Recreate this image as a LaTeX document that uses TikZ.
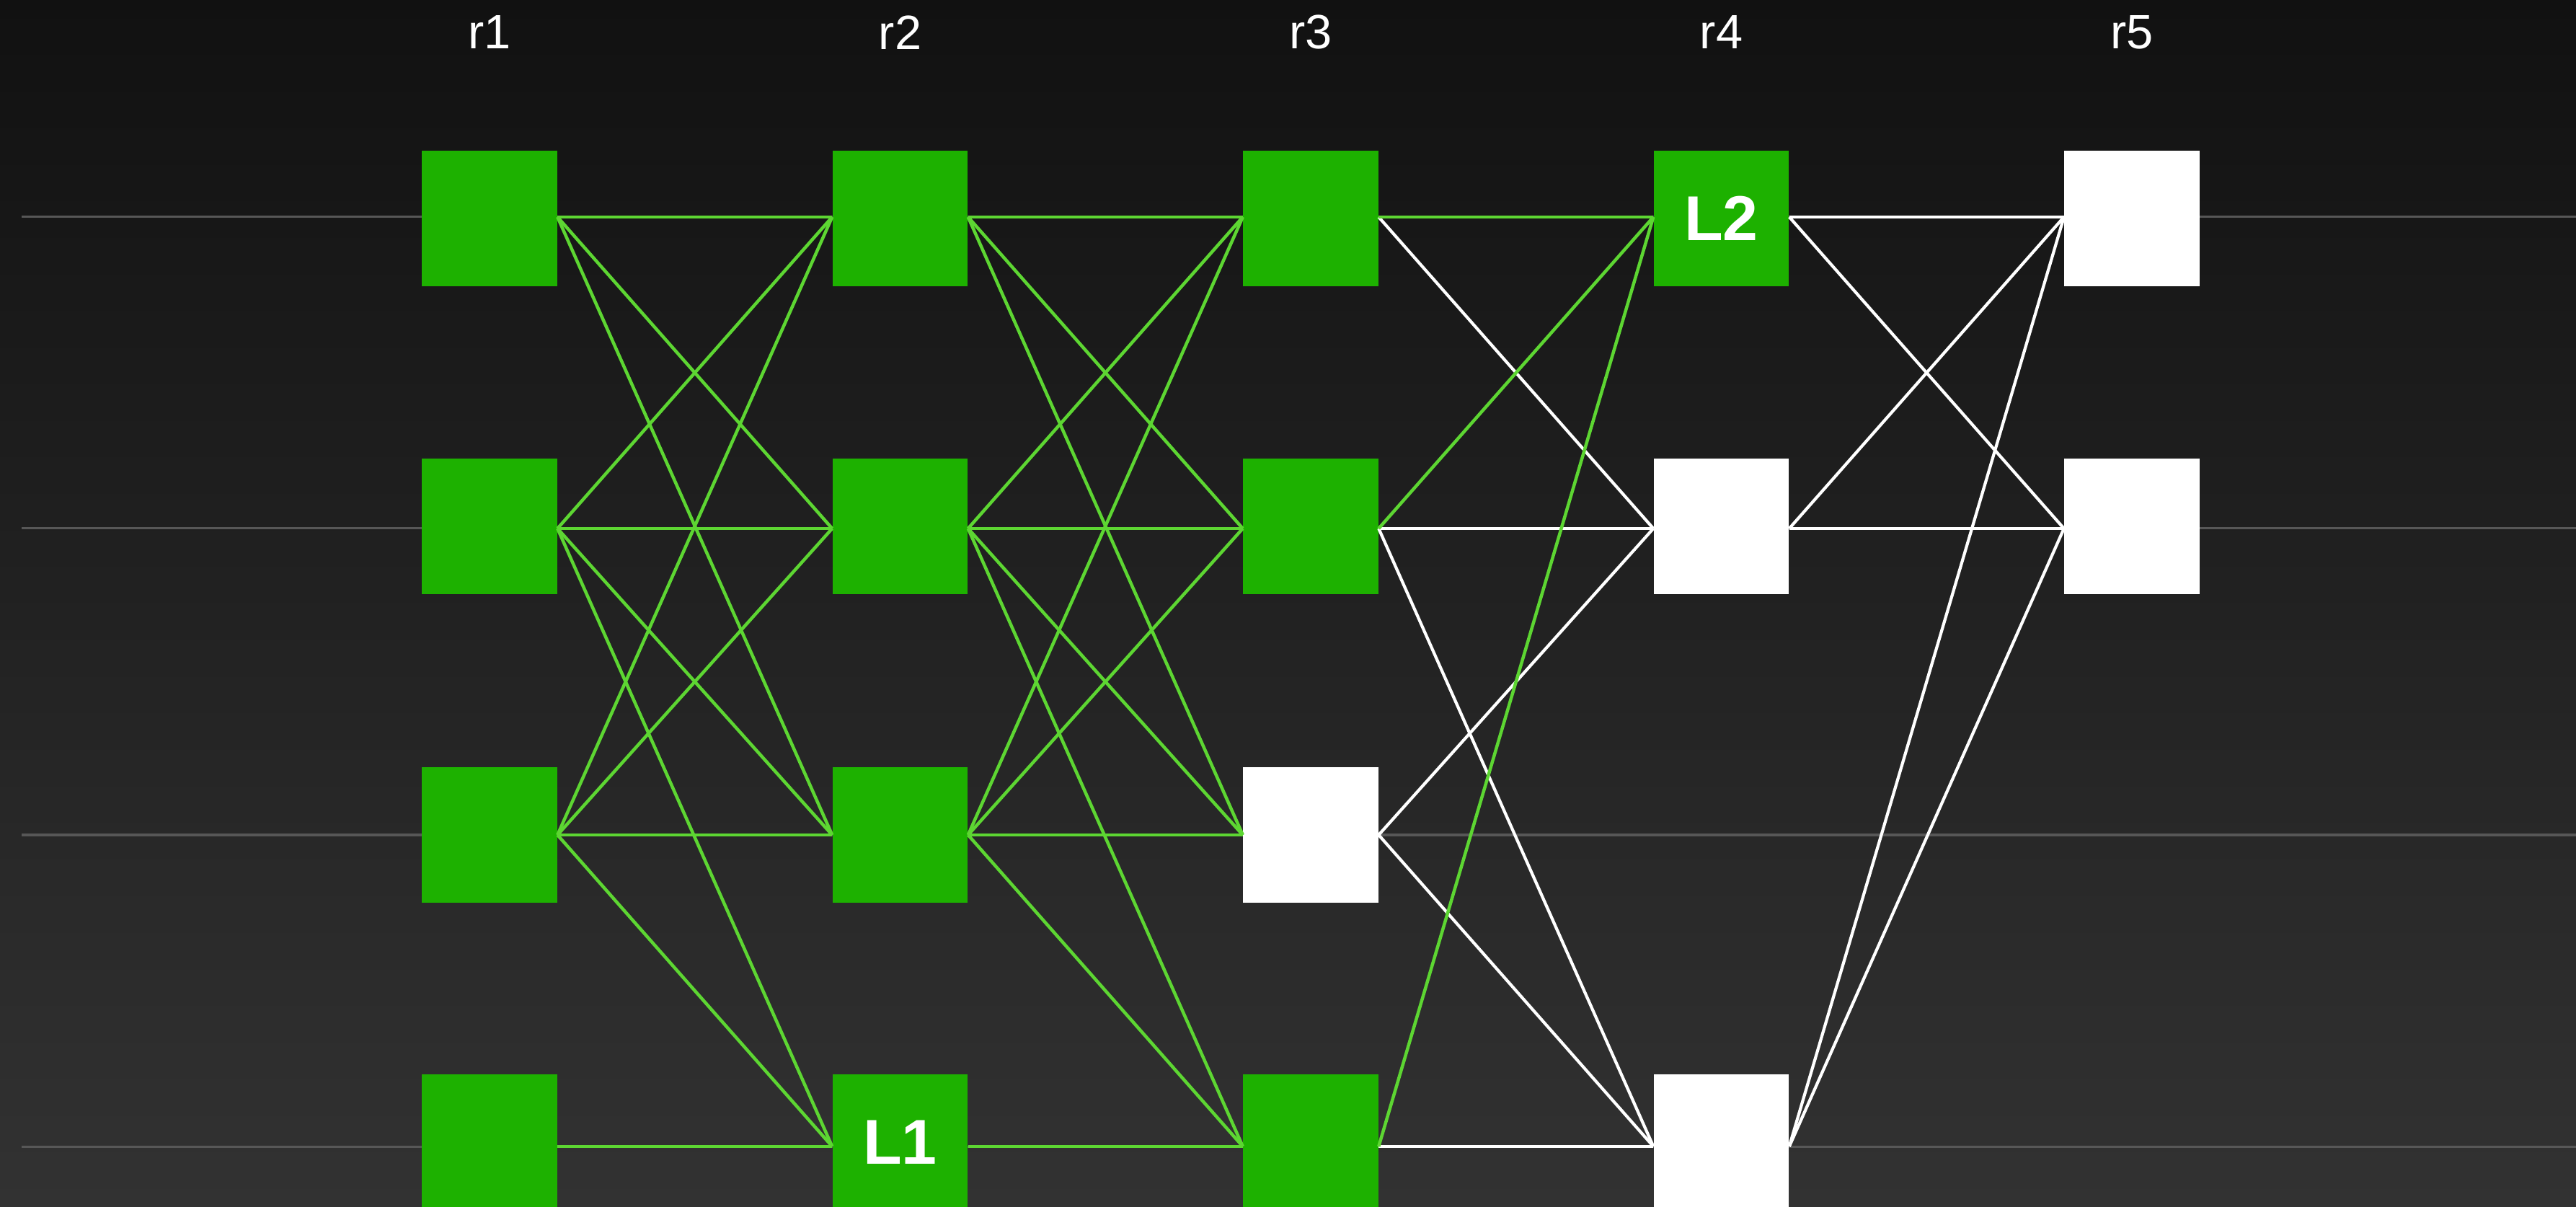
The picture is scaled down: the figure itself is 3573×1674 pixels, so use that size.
\documentclass[tikz,border=0pt]{standalone}
\usepackage{fontspec}
\setmainfont{Liberation Sans}
\definecolor{bgtop}{HTML}{111111}
\definecolor{bgbot}{HTML}{323232}
\definecolor{gfill}{HTML}{1DB100}
\definecolor{gedge}{HTML}{5DD632}
\definecolor{rulegray}{HTML}{575757}
\begin{document}
\begin{tikzpicture}[x=0.01cm,y=-0.01cm,
  box/.style={minimum width=1.87cm,minimum height=1.87cm,inner sep=0pt,draw=none},
  gbox/.style={box,fill=gfill},
  wbox/.style={box,fill=white},
  boxlabel/.style={text=white,font=\fontsize{25}{25}\selectfont\bfseries},
  collabel/.style={text=white,inner sep=0pt,font=\fontsize{19}{20}\selectfont},
  rowrule/.style={draw=rulegray,line width=0.03cm},
  gline/.style={draw=gedge,line width=0.045cm},
  wline/.style={draw=white,line width=0.042cm}]
\shade[top color=bgtop,bottom color=bgbot] (0,0) rectangle (3573,1674);
\useasboundingbox (0,0) rectangle (3573,1674);
% row port heights
\coordinate (y1) at (0,301);
\coordinate (y2) at (0,733);
\coordinate (y3) at (0,1158);
\coordinate (y4) at (0,1590);
% horizontal rules
\foreach \k in {1,2,3,4}{
  \coordinate (rs\k) at (30,0 |- y\k);
  \coordinate (re\k) at (3573,0 |- y\k);
  \draw[rowrule] (rs\k |- y\k) -- (re\k |- y\k);
}
% column labels
\node[collabel] (lab1) at (679,45) {r1};
\node[collabel] (lab2) at (1248.5,45) {r2};
\node[collabel] (lab3) at (1818,45) {r3};
\node[collabel] (lab4) at (2387.5,45) {r4};
\node[collabel] (lab5) at (2957,45) {r5};
% nodes
\node[gbox] (n11) at (679,303) {};
\node[gbox] (n12) at (679,730) {};
\node[gbox] (n13) at (679,1158) {};
\node[gbox] (n14) at (679,1584) {};
\node[gbox] (n21) at (1248.5,303) {};
\node[gbox] (n22) at (1248.5,730) {};
\node[gbox] (n23) at (1248.5,1158) {};
\node[gbox,boxlabel] (n24) at (1248.5,1584) {L1};
\node[gbox] (n31) at (1818,303) {};
\node[gbox] (n32) at (1818,730) {};
\node[wbox] (n33) at (1818,1158) {};
\node[gbox] (n34) at (1818,1584) {};
\node[gbox,boxlabel] (n41) at (2387.5,303) {L2};
\node[wbox] (n42) at (2387.5,730) {};
\node[wbox] (n44) at (2387.5,1584) {};
\node[wbox] (n51) at (2957,303) {};
\node[wbox] (n52) at (2957,730) {};
% edges r1 -> r2 and r2 -> r3
\foreach \a/\b in {1/1,1/2,1/3,2/1,2/2,2/3,2/4,3/1,3/2,3/3,3/4,4/4}{
  \draw[gline] (n1\a.east |- y\a) -- (n2\b.west |- y\b);
  \draw[gline] (n2\a.east |- y\a) -- (n3\b.west |- y\b);
}
% edges r3 -> r4
\foreach \a/\b in {1/2,2/2,2/4,3/2,3/4,4/4}{
  \draw[wline] (n3\a.east |- y\a) -- (n4\b.west |- y\b);
}
\foreach \a/\b in {1/1,2/1,4/1}{
  \draw[gline] (n3\a.east |- y\a) -- (n4\b.west |- y\b);
}
% edges r4 -> r5
\foreach \a/\b in {1/1,1/2,2/1,2/2,4/1,4/2}{
  \draw[wline] (n4\a.east |- y\a) -- (n5\b.west |- y\b);
}
\end{tikzpicture}
\end{document}
